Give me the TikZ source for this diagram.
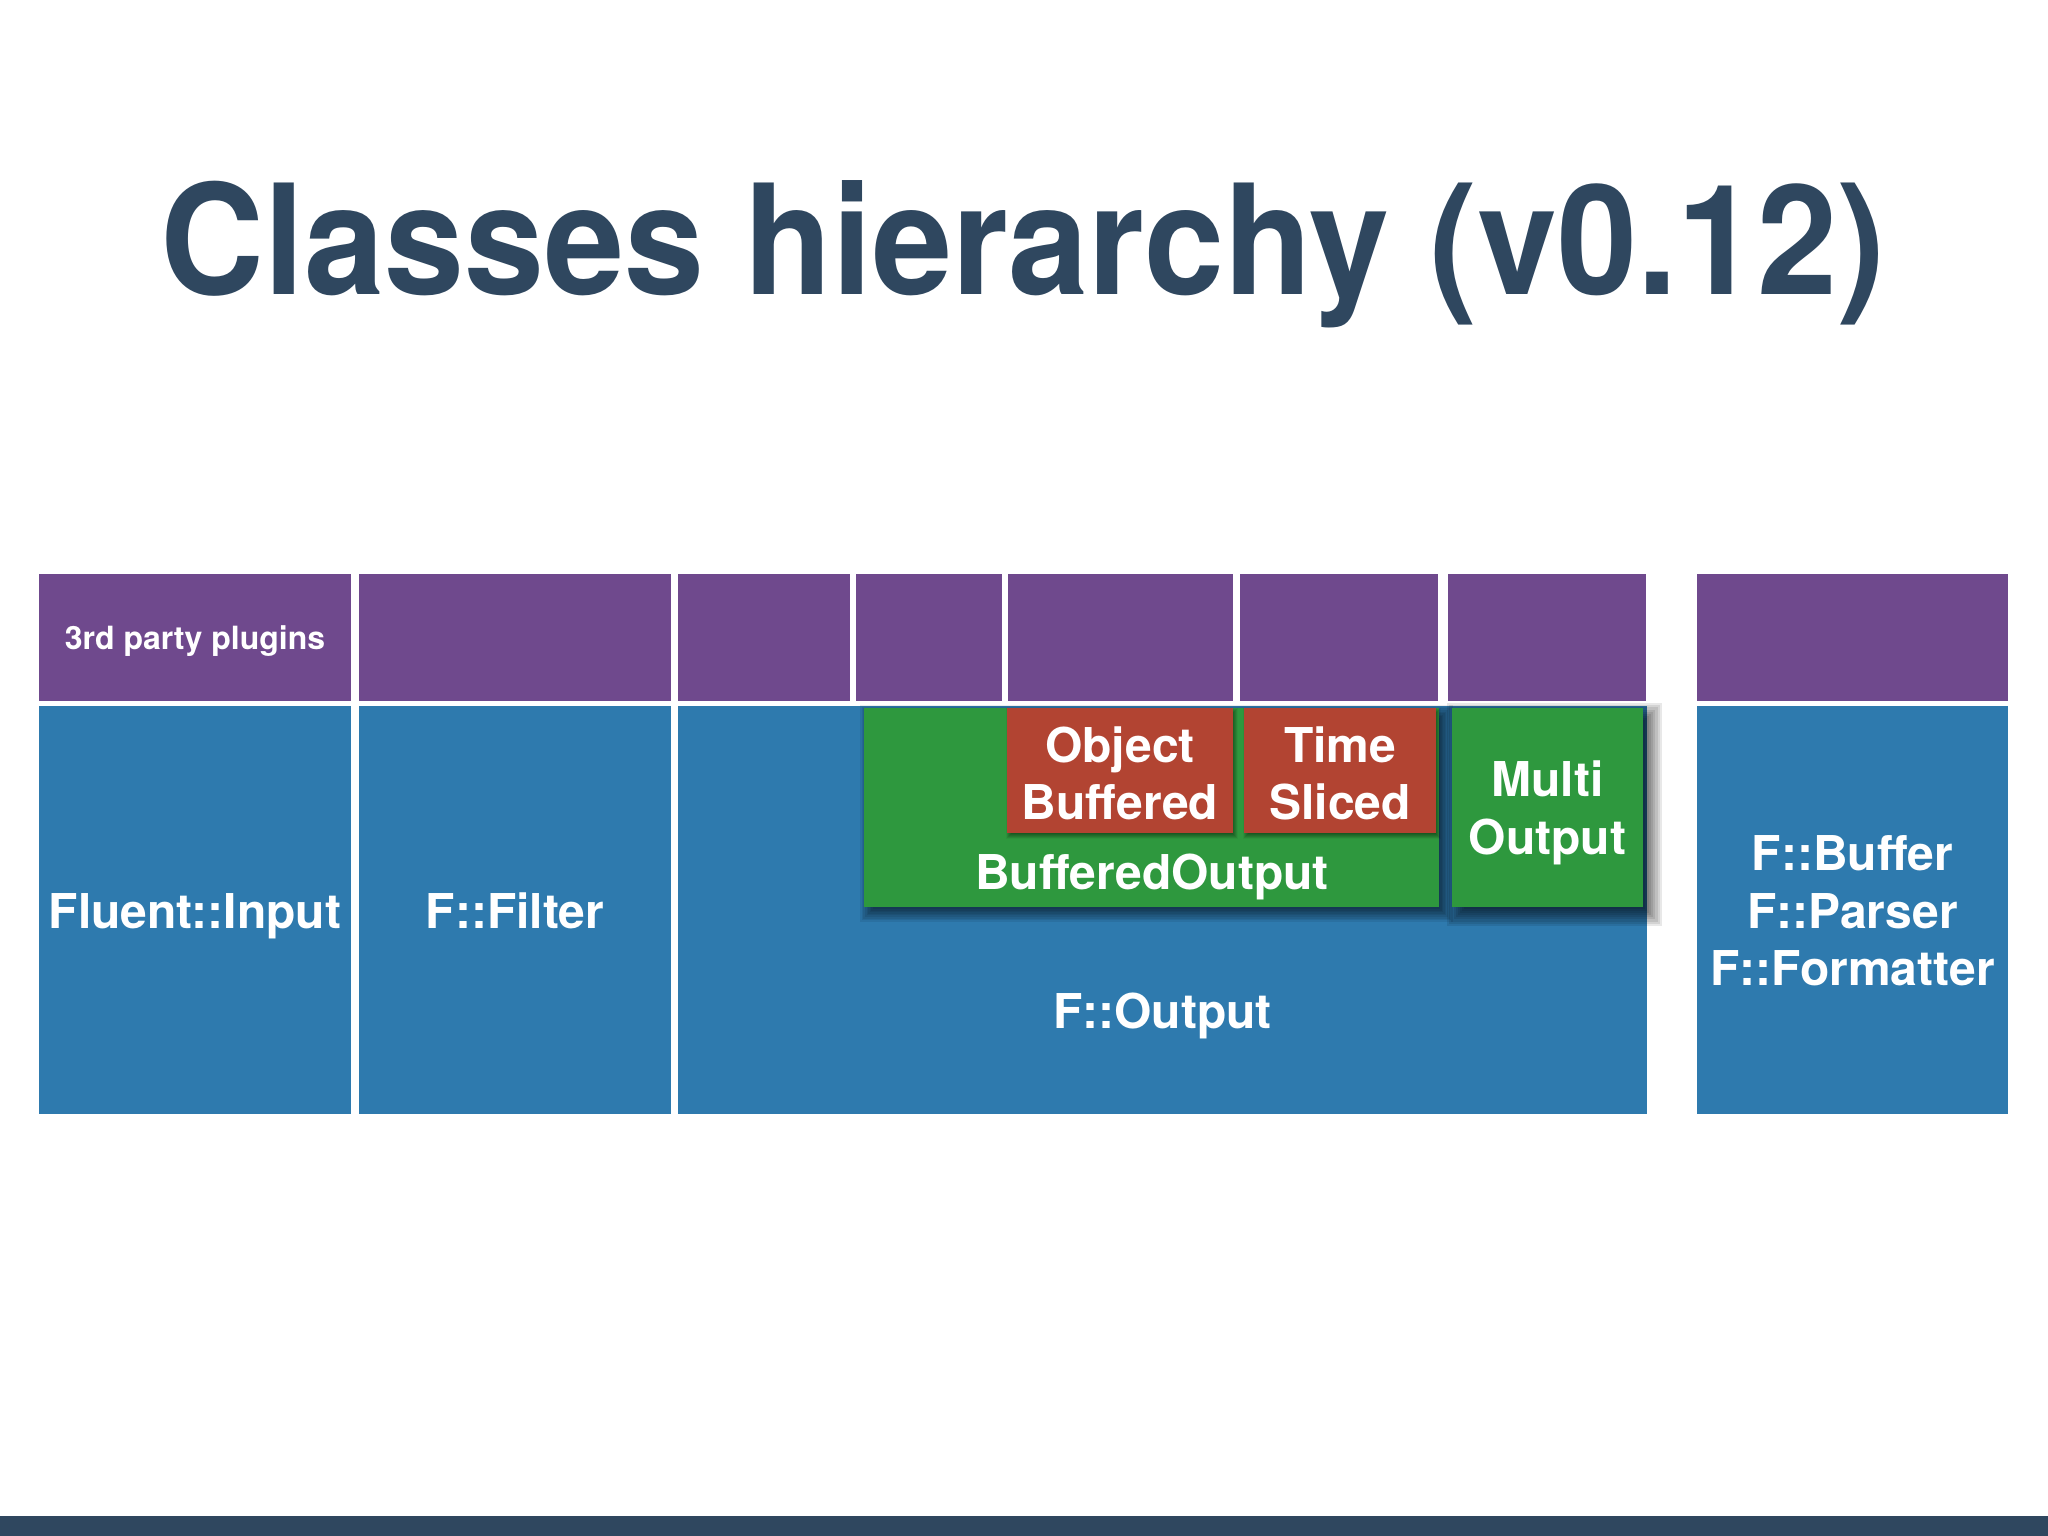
\documentclass[tikz,border=0pt]{standalone}
\usepackage{fontspec}
\setmainfont{TeX Gyre Heros}
\newfontfamily\titlefont[FakeStretch=0.94]{TeX Gyre Heros}
\definecolor{cpurple}{HTML}{6F498D}
\definecolor{cblue}{HTML}{2E7AAE}
\definecolor{cgreen}{HTML}{2E983E}
\definecolor{cred}{HTML}{B24432}
\definecolor{cslate}{HTML}{2F475F}
\pgfdeclarelayer{shA}
\pgfdeclarelayer{shB}
\pgfdeclarelayer{lvB}
\pgfdeclarelayer{shC}
\pgfdeclarelayer{lvC}
\pgfdeclarelayer{txt}
\pgfsetlayers{shA,main,shB,lvB,shC,lvC,txt}
\newcommand\softshadow[5]{% node, dx, dy, blur, alpha
  \foreach \kk in {0,...,11}{
    \pgfmathsetmacro\shrr{#4*(1-\kk/11)-#4/2}
    \pgfmathsetmacro\shxa{#2-\shrr}
    \pgfmathsetmacro\shya{#3-\shrr}
    \pgfmathsetmacro\shxb{#2+\shrr}
    \pgfmathsetmacro\shyb{#3+\shrr}
    \fill[black,opacity=#5] ([shift={(\shxa,\shya)}]#1.north west) rectangle ([shift={(\shxb,\shyb)}]#1.south east);
  }}
\tikzset{
  box/.style={rectangle, inner sep=0pt, outer sep=0pt, anchor=north west, draw=none},
  pbox/.style={box, fill=cpurple, minimum height=127pt},
  bbox/.style={box, fill=cblue, minimum height=408pt},
  gbox/.style={box, fill=cgreen, minimum height=199pt},
  rbox/.style={box, fill=cred, minimum height=125pt},
  lbl/.style={text=white, font=\bfseries\fontsize{48}{58}\selectfont, inner sep=0pt, anchor=base},
  slbl/.style={text=white, font=\bfseries\fontsize{32}{38}\selectfont, inner sep=0pt, anchor=base}
}
\begin{document}
\begin{tikzpicture}[x=1pt,y=-1pt]
\useasboundingbox (0,0) rectangle (2048,1536);
\fill[white] (0,0) rectangle (2048,1536);
\fill[cslate] (0,1516) rectangle (2048,1536);

\node[font=\titlefont\bfseries\fontsize{153}{160}\selectfont, text=cslate, anchor=base, inner sep=0pt] (title) at (1023,294) {Classes hierarchy (v0.12)};

% purple row
\node[pbox, minimum width=312.5pt] (p1) at (38.5,574) {};
\node[pbox, minimum width=312pt] (p2) at (359,574) {};
\node[pbox, minimum width=172pt] (p3) at (678,574) {};
\node[pbox, minimum width=146pt] (p4) at (856,574) {};
\node[pbox, minimum width=225pt] (p5) at (1008,574) {};
\node[pbox, minimum width=198pt] (p6) at (1240,574) {};
\node[pbox, minimum width=198pt] (p7) at (1448,574) {};
\node[pbox, minimum width=311pt] (p8) at (1697,574) {};
% blue row
\node[bbox, minimum width=312.5pt] (b1) at (38.5,706) {};
\node[bbox, minimum width=312pt] (b2) at (359,706) {};
\node[bbox, minimum width=969pt] (b3) at (678,706) {};
\node[bbox, minimum width=311pt] (b4) at (1697,706) {};

\begin{pgfonlayer}{shA}
  \foreach \nn in {p1,p2,p3,p4,p5,p6,p7,p8,b1,b2,b3,b4}{\softshadow{\nn}{1}{2.5}{4}{0.045}}
\end{pgfonlayer}

\begin{pgfonlayer}{lvB}
\node[gbox, minimum width=575pt] (bo) at (864,708) {};
\node[gbox, minimum width=191pt] (mo) at (1452,708) {};
\end{pgfonlayer}
\begin{pgfonlayer}{shB}
  \softshadow{bo}{5}{6}{18}{0.075}
  \softshadow{mo}{7}{7}{24}{0.09}
\end{pgfonlayer}

\begin{pgfonlayer}{lvC}
\node[rbox, minimum width=226pt] (ob) at (1007,708) {};
\node[rbox, minimum width=192pt] (ts) at (1244,708) {};
\end{pgfonlayer}
\begin{pgfonlayer}{shC}
  \softshadow{ob}{2}{3}{6}{0.045}
  \softshadow{ts}{2}{3}{6}{0.045}
\end{pgfonlayer}

\begin{pgfonlayer}{txt}
\node[slbl] (t3p) at (195,649) {3rd party plugins};
\node[lbl] (tin) at (195,928) {Fluent::Input};
\node[lbl] (tfi) at (515,928) {F::Filter};
\node[lbl] (tou) at (1162.5,1028) {F::Output};
\node[lbl] (tbo) at (1152,889) {BufferedOutput};
\node[lbl] (tob1) at (1120,762) {Object};
\node[lbl] (tob2) at (1120,819) {Buffered};
\node[lbl] (tts1) at (1340,762) {Time};
\node[lbl] (tts2) at (1340,819) {Sliced};
\node[lbl] (tmo1) at (1547.5,796) {Multi};
\node[lbl] (tmo2) at (1547.5,854) {Output};
\node[lbl] (tf1) at (1852.5,870) {F::Buffer};
\node[lbl] (tf2) at (1852.5,928) {F::Parser};
\node[lbl] (tf3) at (1852.5,985) {F::Formatter};
\end{pgfonlayer}
\end{tikzpicture}
\end{document}
